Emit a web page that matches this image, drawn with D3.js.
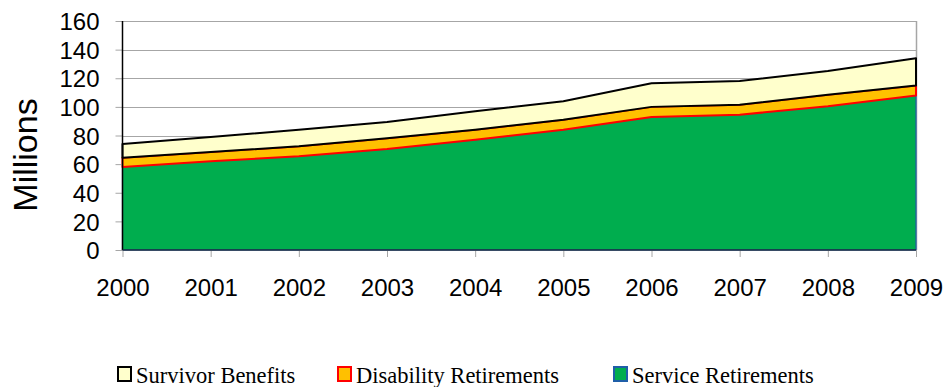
<!DOCTYPE html>
<html>
<head>
<meta charset="utf-8">
<script src="https://cdn.jsdelivr.net/npm/d3@7"></script>
<style>
  html, body { margin: 0; padding: 0; background: #fff; }
  svg { display: block; }
</style>
</head>
<body>
<svg id="chart" width="946" height="387"></svg>
<script>
// Annual benefit payments, millions of dollars
const years = [2000, 2001, 2002, 2003, 2004, 2005, 2006, 2007, 2008, 2009];
const serviceRetirements = [58, 62, 65.5, 70.5, 77, 84, 93, 94.5, 100.5, 108];
const disabilityRetirements = [6.5, 6.5, 7, 7.5, 7, 7, 7, 7, 8, 7];
const survivorBenefits = [9.5, 10.5, 11.5, 11.5, 13, 13, 16.5, 16.5, 16.5, 19];
const yTicks = [0, 20, 40, 60, 80, 100, 120, 140, 160];

const seriesInfo = [
  { key: "service", name: "Service Retirements", fill: "#00ad4e", stroke: "#1f5ea8", width: 1.2 },
  { key: "disability", name: "Disability Retirements", fill: "#ffc000", stroke: "#ff0000", width: 2 },
  { key: "survivor", name: "Survivor Benefits", fill: "#ffffcc", stroke: "#000000", width: 2 }
];

const rows = years.map((yr, i) => ({
  year: yr,
  service: serviceRetirements[i],
  disability: disabilityRetirements[i],
  survivor: survivorBenefits[i]
}));

const svg = d3.select("#chart");
const plotLeft = 122.5, plotRight = 916, plotTop = 21, plotBottom = 250;

const x = d3.scalePoint().domain(years).range([plotLeft, plotRight]);
const y = d3.scaleLinear().domain([0, 160]).range([plotBottom, plotTop]);

// Horizontal gridlines
svg.append("g")
  .selectAll("line")
  .data(yTicks.filter(t => t > 0))
  .join("line")
  .attr("x1", plotLeft).attr("x2", plotRight)
  .attr("y1", d => Math.round(y(d)) + 0.5).attr("y2", d => Math.round(y(d)) + 0.5)
  .attr("stroke", "#a6a6a6").attr("stroke-width", 1);

// Right border
svg.append("line")
  .attr("x1", plotRight + 0.5).attr("x2", plotRight + 0.5)
  .attr("y1", plotTop).attr("y2", plotBottom)
  .attr("stroke", "#a6a6a6").attr("stroke-width", 1.5);

// Stacked areas
const stack = d3.stack().keys(seriesInfo.map(s => s.key));
const layers = stack(rows);
const area = d3.area()
  .x(d => x(d.data.year))
  .y0(d => y(d[0]))
  .y1(d => y(d[1]));

svg.append("g")
  .selectAll("path")
  .data(layers)
  .join("path")
  .attr("d", area)
  .attr("fill", (d, i) => seriesInfo[i].fill)
  .attr("stroke", (d, i) => seriesInfo[i].stroke)
  .attr("stroke-width", (d, i) => seriesInfo[i].width)
  .attr("stroke-linejoin", "round");

// Y axis
const yAxis = d3.axisLeft(y).tickValues(yTicks).tickSize(7).tickPadding(16);
const gy = svg.append("g").attr("transform", `translate(${plotLeft},0)`).call(yAxis);
gy.select(".domain").remove();
gy.selectAll(".tick line").attr("stroke", "#a6a6a6");
gy.selectAll(".tick text")
  .attr("font-family", "Liberation Sans, Arial, sans-serif")
  .attr("font-size", 24).attr("fill", "#000").attr("dy", "0.36em");
svg.append("line")
  .attr("x1", plotLeft).attr("x2", plotLeft).attr("y1", plotTop).attr("y2", plotBottom)
  .attr("stroke", "#000").attr("stroke-width", 1.5);

// X axis
const xAxis = d3.axisBottom(x).tickSize(7).tickPadding(22);
const gx = svg.append("g").attr("transform", `translate(0,${plotBottom})`).call(xAxis);
gx.select(".domain").remove();
gx.selectAll(".tick line").attr("stroke", "#a6a6a6");
gx.selectAll(".tick text")
  .attr("font-family", "Liberation Sans, Arial, sans-serif")
  .attr("font-size", 24).attr("fill", "#000");
svg.append("line")
  .attr("x1", plotLeft).attr("x2", plotRight).attr("y1", plotBottom).attr("y2", plotBottom)
  .attr("stroke", "#1a2a40").attr("stroke-width", 1.5);

// Y axis title
svg.append("text")
  .attr("transform", "translate(37,155) rotate(-90)")
  .attr("text-anchor", "middle")
  .attr("font-family", "Liberation Sans, Arial, sans-serif")
  .attr("font-size", 34)
  .text("Millions");

// Legend
const legendItems = [seriesInfo[2], seriesInfo[1], seriesInfo[0]];
const legendX = [118, 338, 614];
const lg = svg.append("g")
  .selectAll("g")
  .data(legendItems)
  .join("g")
  .attr("transform", (d, i) => `translate(${legendX[i]},367)`);
lg.append("rect")
  .attr("width", 13).attr("height", 14)
  .attr("fill", d => d.fill).attr("stroke", d => d.stroke).attr("stroke-width", 2);
lg.append("text")
  .attr("x", 18).attr("y", 15.5)
  .attr("font-family", "Liberation Serif, Times New Roman, serif")
  .attr("font-size", 22.5)
  .text(d => d.name);
</script>
</body>
</html>
